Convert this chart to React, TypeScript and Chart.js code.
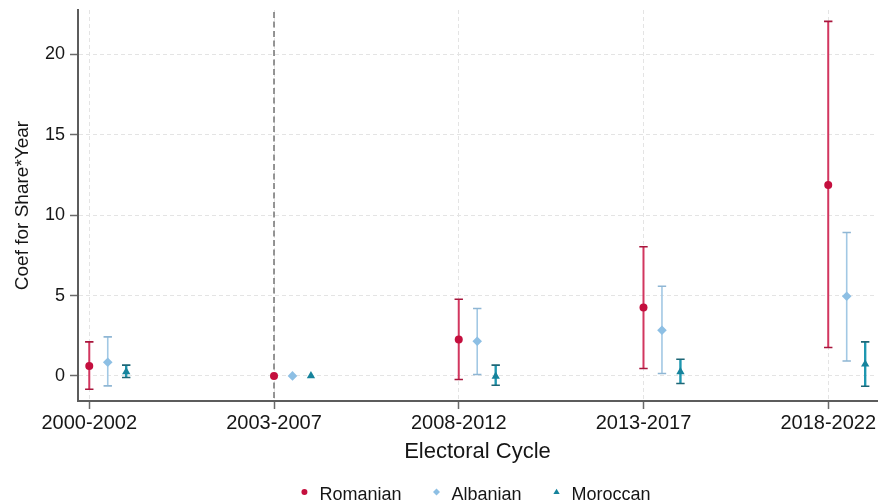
import { useEffect, useRef } from "react";
import { Chart, registerables } from "chart.js";

Chart.register(...registerables);

const FONT = "'Liberation Sans', Arial, Helvetica, sans-serif";
const TEXT = "#161616";

// Electoral cycles (x categories) and y-axis ticks
const cycles = ["2000-2002", "2003-2007", "2008-2012", "2013-2017", "2018-2022"];
const yTicks = [0, 5, 10, 15, 20];

// Coefficients and 95% confidence bounds; 2003-2007 is the reference cycle (no interval)
const romanianCoef = [0.62, 0, 2.26, 4.26, 11.87];
const romanianLow = [-0.83, null, -0.22, 0.46, 1.77];
const romanianHigh = [2.12, null, 4.77, 8.03, 22.05];

const albanianCoef = [0.85, 0, 2.16, 2.84, 4.96];
const albanianLow = [-0.62, null, 0.09, 0.15, 0.93];
const albanianHigh = [2.43, null, 4.19, 5.58, 8.92];

const moroccanCoef = [0.25, 0, -0.02, 0.25, 0.73];
const moroccanLow = [-0.1, null, -0.58, -0.47, -0.64];
const moroccanHigh = [0.67, null, 0.67, 1.04, 2.12];

type Series = {
  label: string;
  coef: number[];
  low: (number | null)[];
  high: (number | null)[];
  shift: number;
  pointStyle: "circle" | "rectRot" | "triangle";
  radius: number;
  color: string;
  barColor: string;
  capColor: string;
  barWidth: number;
};

const series: Series[] = [
  {
    label: "Romanian",
    coef: romanianCoef,
    low: romanianLow,
    high: romanianHigh,
    shift: 0,
    pointStyle: "circle",
    radius: 4,
    color: "#C40F3E",
    barColor: "#D2365F",
    capColor: "#A8163C",
    barWidth: 2,
  },
  {
    label: "Albanian",
    coef: albanianCoef,
    low: albanianLow,
    high: albanianHigh,
    shift: 0.1,
    pointStyle: "rectRot",
    radius: 4.8,
    color: "#8DBFE4",
    barColor: "#A2C8E4",
    capColor: "#8FB6D4",
    barWidth: 1.6,
  },
  {
    label: "Moroccan",
    coef: moroccanCoef,
    low: moroccanLow,
    high: moroccanHigh,
    shift: 0.2,
    pointStyle: "triangle",
    radius: 4.8,
    color: "#16839C",
    barColor: "#1E97B0",
    capColor: "#1D6676",
    barWidth: 2.4,
  },
];

// Vertical error bars with short caps, drawn under the markers
const errorBars = {
  id: "errorBars",
  beforeDatasetsDraw(chart: any) {
    const { ctx } = chart;
    const x = chart.scales.x;
    const y = chart.scales.y;
    series.forEach((s, i) => {
      const ds = chart.data.datasets[i];
      ds.data.forEach((pt: { x: number; y: number }, j: number) => {
        const lo = s.low[j];
        const hi = s.high[j];
        if (lo == null || hi == null) return;
        const px = x.getPixelForValue(pt.x);
        const yLo = y.getPixelForValue(lo);
        const yHi = y.getPixelForValue(hi);
        ctx.save();
        ctx.strokeStyle = s.barColor;
        ctx.lineWidth = s.barWidth;
        ctx.beginPath();
        ctx.moveTo(px, yLo);
        ctx.lineTo(px, yHi);
        ctx.stroke();
        ctx.strokeStyle = s.capColor;
        ctx.lineWidth = 1.6;
        ctx.beginPath();
        ctx.moveTo(px - 4.2, yLo);
        ctx.lineTo(px + 4.2, yLo);
        ctx.moveTo(px - 4.2, yHi);
        ctx.lineTo(px + 4.2, yHi);
        ctx.stroke();
        ctx.restore();
      });
    });
  },
};

// Dashed reference line at the omitted cycle (2003-2007)
const referenceLine = {
  id: "referenceLine",
  beforeDatasetsDraw(chart: any) {
    const { ctx, chartArea } = chart;
    const px = chart.scales.x.getPixelForValue(1);
    ctx.save();
    ctx.strokeStyle = "#7c7c7c";
    ctx.lineWidth = 1.6;
    ctx.setLineDash([6, 3.5]);
    ctx.beginPath();
    ctx.moveTo(px, chartArea.top + 2);
    ctx.lineTo(px, chartArea.bottom);
    ctx.stroke();
    ctx.restore();
  },
};

function drawMarker(ctx: CanvasRenderingContext2D, style: string, cx: number, cy: number, r: number) {
  ctx.beginPath();
  if (style === "circle") {
    ctx.arc(cx, cy, r, 0, Math.PI * 2);
  } else if (style === "rectRot") {
    ctx.moveTo(cx, cy - r);
    ctx.lineTo(cx + r, cy);
    ctx.lineTo(cx, cy + r);
    ctx.lineTo(cx - r, cy);
    ctx.closePath();
  } else {
    const h = r * 1.5;
    ctx.moveTo(cx, cy - h * 0.6);
    ctx.lineTo(cx + r * 0.9, cy + h * 0.4);
    ctx.lineTo(cx - r * 0.9, cy + h * 0.4);
    ctx.closePath();
  }
  ctx.fill();
}

// Legend row centred under the plot area
const seriesLegend = {
  id: "seriesLegend",
  afterDraw(chart: any) {
    const { ctx, chartArea } = chart;
    ctx.save();
    ctx.font = `18px ${FONT}`;
    const markerGap = 15;
    const itemGap = 35;
    const widths = series.map((s) => ctx.measureText(s.label).width);
    const total = widths.reduce((a, w) => a + markerGap + w, 0) + itemGap * (series.length - 1);
    let mx = (chartArea.left + chartArea.right) / 2 - total / 2;
    const markerY = chart.height - 12;
    const baseY = chart.height - 4;
    series.forEach((s, i) => {
      ctx.fillStyle = s.color;
      drawMarker(ctx, s.pointStyle, mx, markerY, s.pointStyle === "circle" ? 3 : 3.5);
      ctx.fillStyle = TEXT;
      ctx.textAlign = "left";
      ctx.textBaseline = "alphabetic";
      ctx.fillText(s.label, mx + markerGap, baseY);
      mx += markerGap + widths[i] + itemGap;
    });
    ctx.restore();
  },
};

export default function App() {
  const canvasRef = useRef<HTMLCanvasElement | null>(null);

  useEffect(() => {
    if (!canvasRef.current) return;
    const gridOpts = {
      color: "#e4e4e4",
      lineWidth: 1,
      tickLength: 8,
      tickColor: "#6a6a6a",
      tickWidth: 1.5,
    };
    const borderOpts = { display: true, color: "#5c5c5c", width: 2, dash: [4, 3] };

    const chart = new Chart(canvasRef.current, {
      type: "scatter",
      data: {
        datasets: series.map((s) => ({
          label: s.label,
          data: s.coef.map((v, i) => ({ x: i + s.shift, y: v })),
          pointStyle: s.pointStyle,
          pointRadius: s.radius,
          pointHoverRadius: s.radius,
          backgroundColor: s.color,
          borderColor: s.color,
          borderWidth: 0,
          showLine: false,
          clip: false as any,
        })),
      },
      options: {
        animation: false,
        responsive: false,
        layout: { padding: { top: 10, right: 7, left: 0, bottom: 0 } },
        plugins: {
          legend: { display: false },
          tooltip: { enabled: false },
        },
        scales: {
          x: {
            type: "linear",
            min: -0.061,
            max: 4.264,
            afterBuildTicks: (scale: any) => {
              scale.ticks = cycles.map((_, i) => ({ value: i }));
            },
            afterFit: (scale: any) => {
              scale.height = 103;
              scale.paddingLeft = 0;
              scale.paddingRight = 0;
            },
            ticks: {
              autoSkip: false,
              maxRotation: 0,
              padding: 2,
              color: TEXT,
              font: { family: FONT, size: 20 },
              callback: (v: any) => cycles[Math.round(Number(v))] ?? "",
            },
            grid: gridOpts,
            border: borderOpts,
            title: {
              display: true,
              text: "Electoral Cycle",
              color: TEXT,
              font: { family: FONT, size: 22 },
              padding: { top: 0, bottom: 39 },
            },
          },
          y: {
            type: "linear",
            min: -1.56,
            max: 22.76,
            afterBuildTicks: (scale: any) => {
              scale.ticks = yTicks.map((v) => ({ value: v }));
            },
            afterFit: (scale: any) => {
              scale.width = 78;
              scale.paddingTop = 0;
              scale.paddingBottom = 0;
            },
            ticks: {
              padding: 5,
              color: TEXT,
              font: { family: FONT, size: 18 },
              callback: (v: any) => String(v),
            },
            grid: gridOpts,
            border: borderOpts,
            title: {
              display: true,
              text: "Coef for Share*Year",
              color: TEXT,
              font: { family: FONT, size: 19 },
              padding: { top: 11, bottom: 0 },
            },
          },
        },
      },
      plugins: [referenceLine, errorBars, seriesLegend],
    });
    return () => chart.destroy();
  }, []);

  return (
    <div style={{ position: "absolute", left: 0, top: 0, width: 884, height: 504, background: "#fff" }}>
      <canvas ref={canvasRef} width={884} height={504} style={{ display: "block" }} />
    </div>
  );
}
